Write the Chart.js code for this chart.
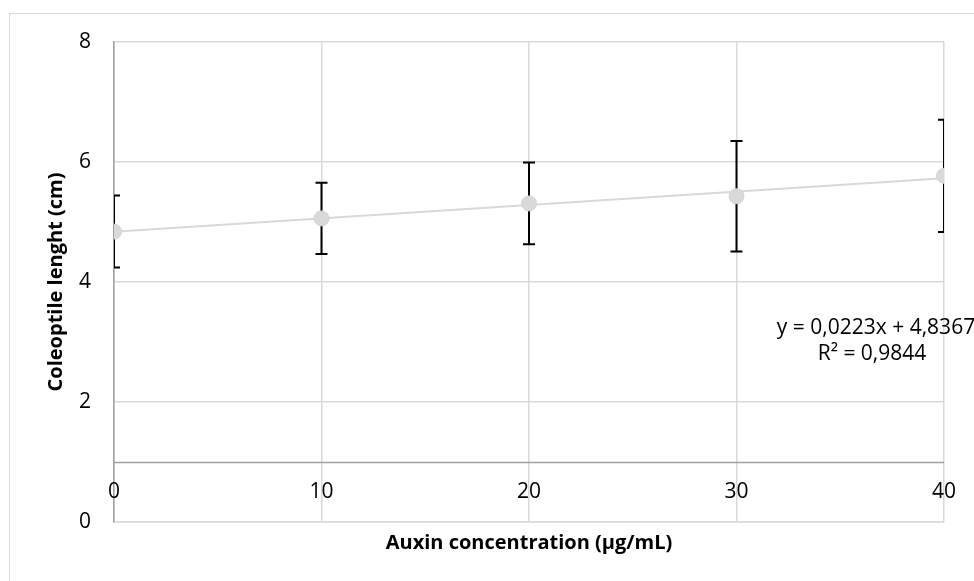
<!DOCTYPE html>
<html>
<head>
<meta charset="utf-8">
<title>Coleoptile length vs auxin</title>
<script src="https://cdn.jsdelivr.net/npm/chart.js@4/dist/chart.umd.min.js"></script>
<style>
  body { margin: 0; background: #fff; overflow: hidden; }
  #wrap { position: relative; width: 974px; height: 581px; }
  #frame {
    position: absolute; left: 9px; top: 13px; width: 1000px; height: 600px;
    border: 1.5px solid #d9d9d9; box-sizing: border-box;
  }
  #chart { position: absolute; left: 0; top: 0; }
</style>
</head>
<body>
<div id="wrap">
  <div id="frame"></div>
  <canvas id="chart" width="974" height="581"></canvas>
</div>
<script>
// data
const concentrations = [0, 10, 20, 30, 40];
const lengths = [4.84, 5.06, 5.31, 5.43, 5.77];
const errors = [0.60, 0.595, 0.68, 0.92, 0.935];

// linear trendline (Excel), endpoints + label
const trendX = [0, 40];
const trendY = [4.8367, 5.7287];
const trendEquation = "y = 0,0223x + 4,8367";
const trendR2 = "R\u00b2 = 0,9844";

const xTitle = "Auxin concentration (\u00b5g/mL)";
const yTitle = "Coleoptile lenght (cm)";
const xAxisCrossesAt = 1; // horizontal axis crosses y at 1

const FONT = "'Open Sans', sans-serif";

// error bars, drawn under the markers
const errorBars = {
  id: "errorBars",
  beforeDatasetsDraw(chart) {
    const { ctx, chartArea, scales } = chart;
    const xs = scales.x, ys = scales.y;
    ctx.save();
    // axis line at y = 1
    const yc = Math.round(ys.getPixelForValue(xAxisCrossesAt)) + 0.5;
    ctx.strokeStyle = "#a0a0a0";
    ctx.lineWidth = 1.5;
    ctx.beginPath();
    ctx.moveTo(chartArea.left, yc);
    ctx.lineTo(chartArea.right, yc);
    ctx.stroke();

    ctx.beginPath();
    ctx.rect(chartArea.left, chartArea.top, chartArea.right - chartArea.left, chartArea.bottom - chartArea.top);
    ctx.clip();
    ctx.strokeStyle = "#000";
    ctx.lineWidth = 2;
    concentrations.forEach((c, i) => {
      const x = xs.getPixelForValue(c);
      const top = ys.getPixelForValue(lengths[i] + errors[i]);
      const bot = ys.getPixelForValue(lengths[i] - errors[i]);
      ctx.beginPath();
      ctx.moveTo(x, top); ctx.lineTo(x, bot);
      ctx.moveTo(x - 6, top); ctx.lineTo(x + 6, top);
      ctx.moveTo(x - 6, bot); ctx.lineTo(x + 6, bot);
      ctx.stroke();
    });
    ctx.restore();
  },
  afterDraw(chart) {
    const { ctx, scales } = chart;
    const xs = scales.x, ys = scales.y;
    ctx.save();
    ctx.fillStyle = "#000";
    ctx.font = "21px " + FONT;
    ctx.textAlign = "center";
    ctx.textBaseline = "middle";
    const ly = ys.getPixelForValue(xAxisCrossesAt) + 30;
    xs.ticks.forEach(t => {
      ctx.fillText(String(t.value), xs.getPixelForValue(t.value), ly);
    });
    // trendline label
    ctx.fillText(trendEquation, 876, 328);
    ctx.fillText(trendR2, 872, 354);
    ctx.restore();
  }
};

new Chart(document.getElementById("chart"), {
  type: "scatter",
  data: {
    datasets: [
      {
        label: "Trend",
        data: trendX.map((x, i) => ({ x: x, y: trendY[i] })),
        showLine: true,
        borderColor: "#d9d9d9",
        borderWidth: 2,
        pointRadius: 0,
        order: 2
      },
      {
        label: "Coleoptile",
        data: concentrations.map((c, i) => ({ x: c, y: lengths[i] })),
        pointRadius: 7.5,
        pointBackgroundColor: "#d9d9d9",
        pointBorderColor: "#d3d3d3",
        pointBorderWidth: 1,
        order: 1
      }
    ]
  },
  options: {
    responsive: false,
    animation: false,
    layout: { padding: { top: 42, right: 30, left: 0, bottom: 0 } },
    plugins: {
      legend: { display: false },
      tooltip: { enabled: false }
    },
    scales: {
      x: {
        type: "linear",
        min: 0,
        max: 40,
        ticks: { display: false, stepSize: 10 },
        grid: { color: "#d9d9d9", lineWidth: 1.5, drawTicks: false },
        border: { color: "#d9d9d9", width: 1.5 },
        title: {
          display: true,
          text: xTitle,
          color: "#000",
          font: { family: FONT, size: 20, weight: "bold" },
          padding: { top: 0, bottom: 26 }
        },
        afterFit(scale) { scale.height = 59; }
      },
      y: {
        min: 0,
        max: 8,
        ticks: {
          stepSize: 2,
          padding: 23,
          color: "#000",
          font: { family: FONT, size: 21 }
        },
        grid: { color: "#d9d9d9", lineWidth: 1.5, drawTicks: false },
        border: { color: "#a0a0a0", width: 1.5 },
        title: {
          display: true,
          text: yTitle,
          color: "#000",
          font: { family: FONT, size: 20, weight: "bold" },
          padding: { top: 44, bottom: 0 }
        },
        afterFit(scale) { scale.width = 114; }
      }
    }
  },
  plugins: [errorBars]
});
</script>
</body>
</html>
